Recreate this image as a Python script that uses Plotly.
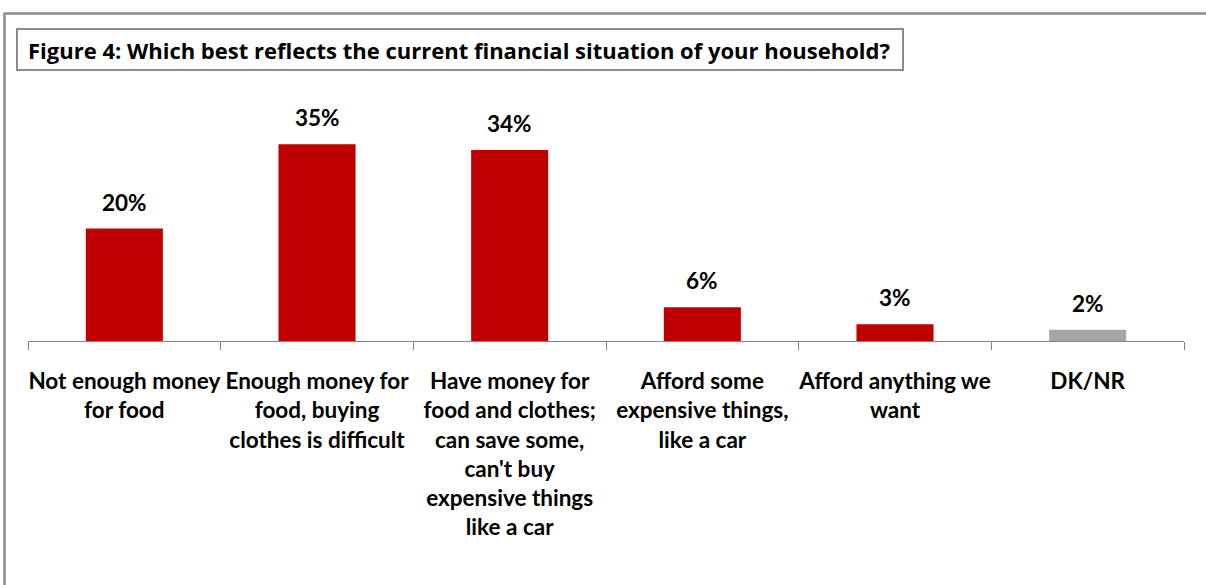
import plotly.graph_objects as go

categories = [
    "Not enough money<br>for food",
    "Enough money for<br>food, buying<br>clothes is difficult",
    "Have money for<br>food and clothes;<br>can save some,<br>can't buy<br>expensive things<br>like a car",
    "Afford some<br>expensive things,<br>like a car",
    "Afford anything we<br>want",
    "DK/NR",
]
values = [20, 35, 34, 6, 3, 2]
bar_colors = ["#C00000", "#C00000", "#C00000", "#C00000", "#C00000", "#A6A6A6"]
title_text = "Figure 4: Which best reflects the current financial situation of your household?"

W, H = 1206, 585
ML, MR, MT, MB = 28, 22, 80, 244
PW, PH = W - ML - MR, H - MT - MB
TITLE_FONT = "Open Sans"
LABEL_FONT = "Lato"

labels = [f"<b>{c}</b>" for c in categories]


def px_x(px):
    return (px - ML) / PW


def px_y(py):
    return (H - MB - py) / PH


fig = go.Figure(
    go.Bar(
        x=labels,
        y=values,
        marker=dict(color=bar_colors, line=dict(width=0)),
        width=0.4,
        hoverinfo="skip",
    )
)

# value labels above each bar
for lab, v in zip(labels, values):
    fig.add_annotation(
        x=lab, y=v, xref="x", yref="y",
        text=f"<b>{v}%</b>", showarrow=False,
        yanchor="bottom", yshift=11,
        font=dict(family=LABEL_FONT, size=22.5, color="#000000"),
    )

# title in a framed box
fig.add_shape(
    type="rect", xref="paper", yref="paper",
    x0=px_x(17), x1=px_x(903), y0=px_y(70), y1=px_y(29),
    line=dict(color="#8C8C8C", width=2), fillcolor="white", layer="below",
)
fig.add_annotation(
    x=px_x(26), y=px_y(50), xref="paper", yref="paper",
    xanchor="left", yanchor="middle", showarrow=False,
    text=f"<b>{title_text}</b>",
    font=dict(family=TITLE_FONT, size=22, color="#000000"),
)

# outer frame around the whole chart
fig.add_shape(
    type="rect", xref="paper", yref="paper",
    x0=px_x(4.5), x1=px_x(1230), y0=px_y(620), y1=px_y(13.5),
    line=dict(color="#8C8C8C", width=2.5), layer="below",
)

fig.update_layout(
    width=W, height=H,
    margin=dict(l=ML, r=MR, t=MT, b=MB, autoexpand=False),
    paper_bgcolor="white", plot_bgcolor="white",
    showlegend=False,
    font=dict(family=LABEL_FONT, color="#000000"),
    xaxis=dict(
        type="category",
        tickfont=dict(family=LABEL_FONT, size=22.5, color="#000000"),
        tickangle=0, automargin=False,
        showline=True, linecolor="#868686", linewidth=1,
        ticks="outside", tickson="boundaries", ticklen=8,
        tickcolor="#868686", tickwidth=1,
        ticklabelstandoff=20,
        showgrid=False, zeroline=False,
    ),
    yaxis=dict(
        range=[0, PH / 5.62],
        visible=False, showgrid=False, zeroline=False,
    ),
)

fig.write_html("out.html")
